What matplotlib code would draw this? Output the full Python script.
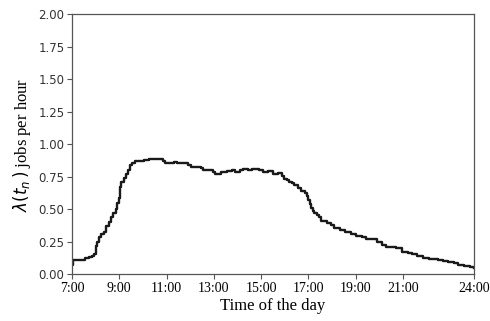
import matplotlib
matplotlib.use("Agg")
import matplotlib.pyplot as plt

hours = [7.00, 7.03, 7.40, 7.55, 7.70, 7.85, 7.95, 8.00, 8.05, 8.12, 8.22, 8.35, 8.45, 8.55,
         8.65, 8.75, 8.85, 8.92, 8.98, 9.02, 9.08, 9.18, 9.28, 9.38, 9.45, 9.53, 9.65, 9.85,
         10.05, 10.25, 10.45, 10.70, 10.85, 10.95, 11.30, 11.45, 11.90, 12.05, 12.45, 12.55,
         12.95, 13.05, 13.30, 13.55, 13.75, 13.90, 14.10, 14.25, 14.45, 14.60, 14.90, 15.10,
         15.30, 15.50, 15.70, 15.90, 15.98, 16.10, 16.20, 16.30, 16.40, 16.55, 16.70, 16.85,
         16.95, 17.00, 17.05, 17.10, 17.18, 17.25, 17.35, 17.45, 17.55, 17.80, 17.95, 18.10,
         18.35, 18.55, 18.80, 19.00, 19.25, 19.45, 19.90, 20.10, 20.30, 20.70, 20.95, 21.20,
         21.40, 21.60, 21.85, 22.10, 22.50, 22.70, 22.90, 23.15, 23.35, 23.60, 23.85, 24.00]
rate = [0.07, 0.11, 0.115, 0.125, 0.135, 0.145, 0.16, 0.22, 0.25, 0.29, 0.31, 0.33, 0.37, 0.40,
        0.44, 0.47, 0.50, 0.55, 0.59, 0.67, 0.71, 0.74, 0.77, 0.80, 0.84, 0.86, 0.875, 0.87,
        0.88, 0.89, 0.885, 0.89, 0.875, 0.86, 0.865, 0.855, 0.84, 0.83, 0.82, 0.80,
        0.79, 0.775, 0.785, 0.795, 0.80, 0.785, 0.80, 0.81, 0.805, 0.815, 0.80, 0.79,
        0.795, 0.775, 0.78, 0.76, 0.735, 0.725, 0.715, 0.70, 0.69, 0.665, 0.645, 0.625,
        0.60, 0.57, 0.54, 0.51, 0.49, 0.47, 0.455, 0.44, 0.415, 0.395, 0.38, 0.355,
        0.345, 0.33, 0.315, 0.295, 0.285, 0.27, 0.25, 0.225, 0.21, 0.20, 0.175, 0.165,
        0.155, 0.14, 0.13, 0.12, 0.115, 0.105, 0.095, 0.085, 0.075, 0.065, 0.055, 0.050]
xtick_pos = [7, 9, 11, 13, 15, 17, 19, 21, 24]
xtick_labels = ["7:00", "9:00", "11:00", "13:00", "15:00", "17:00", "19:00", "21:00", "24:00"]
ytick_pos = [0.0, 0.25, 0.5, 0.75, 1.0, 1.25, 1.5, 1.75, 2.0]

plt.rcParams['mathtext.fontset'] = 'dejavusans'
fig = plt.figure(figsize=(4.9, 3.21), dpi=100)
ax = fig.add_axes([0.147, 0.145, 0.82, 0.81])
ax.plot(hours, rate, drawstyle='steps-post', color='#1a1a1a', lw=1.7)
ax.set_xlim(7, 24)
ax.set_ylim(0, 2)
ax.set_xticks(xtick_pos)
ax.set_xticklabels(xtick_labels, family='Liberation Serif', fontsize=10)
ax.set_yticks(ytick_pos)
ax.set_yticklabels([f"{v:.2f}" for v in ytick_pos], family='DejaVu Sans', fontsize=8.5, color='#333333')
for s in ax.spines.values():
    s.set_color('#555555')
    s.set_linewidth(0.9)
ax.tick_params(length=3.5, width=0.8, color='#555555', pad=2)
ax.set_xlabel("Time of the day", family='Liberation Serif', fontsize=12, labelpad=2)
ax.set_ylabel(r"$\lambda(t_n\,)$ jobs per hour", family='Liberation Serif', fontsize=12, labelpad=4)
fig.savefig("out.png", dpi=100)
